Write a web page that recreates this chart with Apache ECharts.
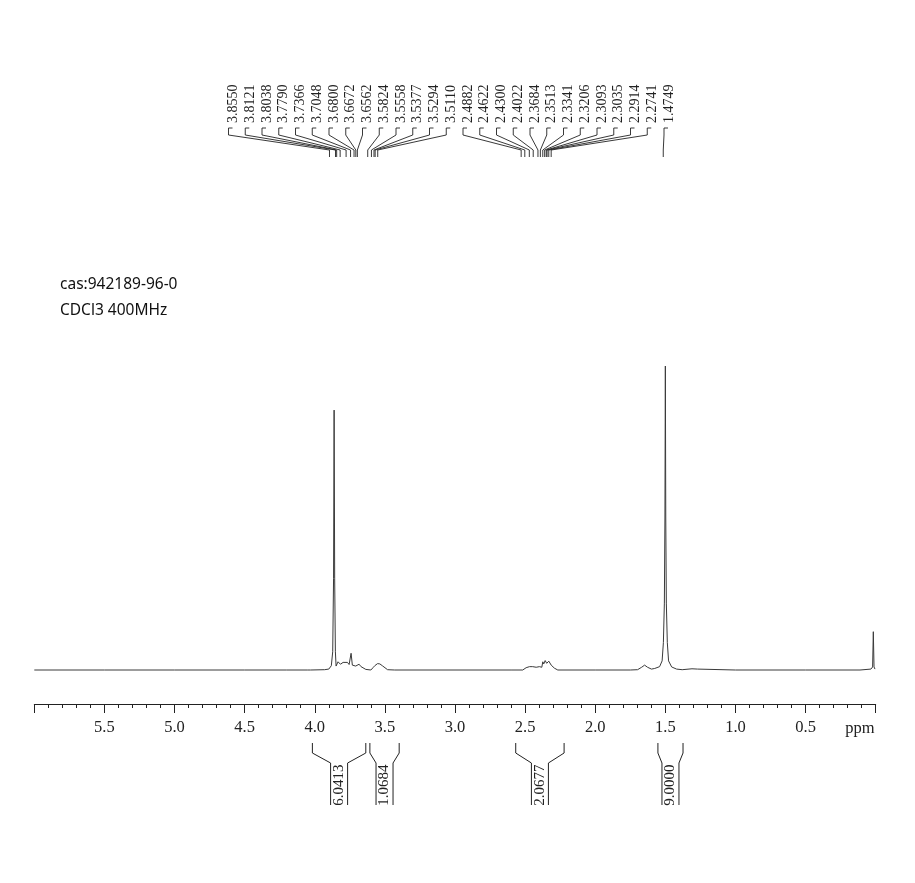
<!DOCTYPE html>
<html>
<head>
<meta charset="utf-8">
<script src="https://cdn.jsdelivr.net/npm/echarts@6/dist/echarts.min.js"></script>
<style>html,body{margin:0;padding:0;background:#fff}#c{width:915px;height:883px}</style>
</head>
<body>
<div id="c"></div>
<script>
// ---- data ----
const infoLines = ['cas:942189-96-0', 'CDCl3 400MHz'];
// spectrum trace: [ppm, relative intensity]
const spectrum = [
  [6.00,0],[5.50,0],[5.00,0],[4.50,0],[4.20,0],[4.05,0],[4.04,0.5],[4.03,0],[3.93,0.1],[3.90,0.3],
  [3.882,1.4],[3.872,6],[3.866,30],[3.862,85.5],[3.858,30],[3.853,6],[3.848,1.3],[3.834,2.7],
  [3.817,1.9],[3.798,2.5],[3.784,1.9],[3.767,2.5],[3.755,1.8],[3.741,5.5],[3.732,1.6],[3.708,1.3],
  [3.684,1.9],[3.670,1.1],[3.657,1.1],[3.636,0.2],[3.600,0],[3.584,0.8],[3.570,1.5],[3.562,1.2],
  [3.552,2.1],[3.545,1.6],[3.536,2.0],[3.527,1.5],[3.518,1.4],[3.510,0.9],[3.481,0.1],[3.43,0],
  [3.0,0],[2.60,0],[2.517,0],[2.493,0.75],[2.469,1.1],
  [2.457,0.9],[2.446,1.1],[2.421,0.9],[2.398,1.1],[2.381,0.9],[2.374,2.7],[2.367,2.0],[2.357,3.1],
  [2.346,2.2],[2.331,2.9],[2.314,1.6],[2.291,0.6],[2.267,0],[2.0,0],[1.75,0],[1.698,0.1],[1.669,0.9],
  [1.648,1.6],[1.627,0.9],[1.599,0.3],[1.576,0.5],[1.541,1.1],[1.523,3],[1.514,9],[1.507,22],
  [1.503,50],[1.500,100],[1.497,50],[1.493,22],[1.486,9],[1.477,3],[1.455,1.0],[1.42,0.3],[1.38,0.1],
  [1.31,0.4],[1.30,0],[1.27,0.3],[1.26,0],[1.0,0],[0.5,0],[0.112,0],[0.034,0.3],[0.022,1],
  [0.017,12.6],[0.012,1],[0.005,0.3],[0.0,0.3]
];
const peakLabels = [3.8550,3.8121,3.8038,3.7790,3.7366,3.7048,3.6800,3.6672,3.6562,3.5824,3.5558,
  3.5377,3.5294,3.5110,2.4882,2.4622,2.4300,2.4022,2.3684,2.3513,2.3341,2.3206,2.3093,2.3035,
  2.2914,2.2741,1.4749];
// integral regions: [from ppm, to ppm, value]
const integralFrom = [4.017, 3.607, 2.567, 1.553];
const integralTo   = [3.636, 3.398, 2.222, 1.374];
const integralVals = ['6.0413', '1.0684', '2.0677', '9.0000'];
const axisMin = 0, axisMax = 6.0, axisStep = 0.5;
const unitLabel = 'ppm';

// ---- chart ----
const chart = echarts.init(document.getElementById('c'), null, {renderer: 'canvas'});
const serif = "'Liberation Serif', 'Times New Roman', serif";
chart.setOption({
  animation: false,
  backgroundColor: '#fff',
  grid: {left: 34.3, right: 39.3, top: 366, bottom: 213},
  xAxis: {
    type: 'value', inverse: true, min: axisMin, max: axisMax, interval: axisStep,
    offset: 34,
    axisLine: {show: true, onZero: false, lineStyle: {color: '#222', width: 1}},
    axisTick: {show: true, length: 9, lineStyle: {color: '#222'}},
    minorTick: {show: true, splitNumber: 5, length: 4, lineStyle: {color: '#222'}},
    splitLine: {show: false},
    axisLabel: {
      margin: 15, color: '#222', fontFamily: serif, fontSize: 16.5,
      formatter: v => (v <= axisMin + 1e-9 || v >= axisMax - 1e-9) ? '' : v.toFixed(1)
    }
  },
  yAxis: {type: 'value', min: 0, max: 100, show: false},
  series: [{
    type: 'line', data: spectrum, symbol: 'none', clip: false,
    lineStyle: {color: '#3a3a3a', width: 1}
  }]
});

function px(v) { return chart.convertToPixel({xAxisIndex: 0}, v); }
const g = [];
const ink = '#222';
// info text
infoLines.forEach((t, i) => g.push({type: 'text', x: 60, y: 285 + i * 26,
  style: {text: t, fontFamily: "'Noto Sans', sans-serif", fontSize: 15.5, fill: '#111', verticalAlign: 'middle'}}));
// unit label
g.push({type: 'text', x: px(axisMin) - 1, y: 729,
  style: {text: unitLabel, fontFamily: serif, fontSize: 16.5, fill: ink, align: 'right', verticalAlign: 'middle'}});
// peak labels with leader lines
const labelStartX = 233.5, labelStep = 16.75, labelRefShift = 0.04;
peakLabels.forEach((p, i) => {
  const cx = labelStartX + labelStep * i;
  const tx = px(p + labelRefShift);
  g.push({type: 'text', x: cx, y: 123, rotation: Math.PI / 2,
    style: {text: p.toFixed(4), fontFamily: serif, fontSize: 14, fill: ink,
      align: 'left', verticalAlign: 'middle'}});
  g.push({type: 'polyline', shape: {points: [[cx - 1, 128], [cx - 5, 128], [cx - 5, 135], [tx, 150], [tx, 157]]},
    style: {stroke: ink, fill: null, lineWidth: 0.9}});
});
// integrals
integralVals.forEach((val, i) => {
  const a = px(integralFrom[i]), b = px(integralTo[i]);
  const c = (a + b) / 2;
  const h = Math.min(8.5, (b - a) / 2 - 1);
  g.push({type: 'polyline', shape: {points: [[a, 743], [a, 753], [c - h, 763], [c - h, 805]]},
    style: {stroke: ink, fill: null, lineWidth: 1}});
  g.push({type: 'polyline', shape: {points: [[b, 743], [b, 753], [c + h, 763], [c + h, 805]]},
    style: {stroke: ink, fill: null, lineWidth: 1}});
  g.push({type: 'text', x: c, y: 785, rotation: Math.PI / 2,
    style: {text: val, fontFamily: serif, fontSize: 15, fill: ink, align: 'center', verticalAlign: 'middle'}});
});
chart.setOption({graphic: g});
</script>
</body>
</html>
